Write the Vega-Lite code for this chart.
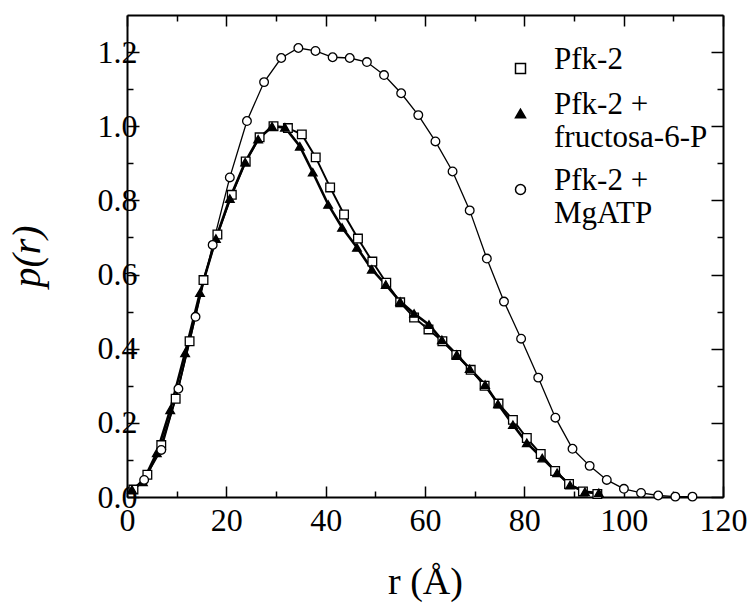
{
  "$schema": "https://vega.github.io/schema/vega-lite/v6.json",
  "width": 596,
  "height": 482,
  "autosize": "none",
  "padding": {"left": 127, "top": 15, "right": 31, "bottom": 112},
  "background": "white",
  "config": {"view": {"stroke": null}, "font": "Liberation Serif", "style": {"guide-label": {"font": "Liberation Serif, Times New Roman, serif"}}, "legend": {"labelFont": "Liberation Serif, Times New Roman, serif", "labelFontSize": 31, "labelColor": "black"}},
  "datasets": {
    "pr": [
      {"s": "Pfk-2", "r": 1.3, "p": 0.02}, {"s": "Pfk-2", "r": 4.1, "p": 0.06}, {"s": "Pfk-2", "r": 6.9, "p": 0.14}, {"s": "Pfk-2", "r": 9.8, "p": 0.265}, {"s": "Pfk-2", "r": 12.6, "p": 0.42}, {"s": "Pfk-2", "r": 15.4, "p": 0.585}, {"s": "Pfk-2", "r": 18.2, "p": 0.708}, {"s": "Pfk-2", "r": 21.1, "p": 0.815}, {"s": "Pfk-2", "r": 23.9, "p": 0.905}, {"s": "Pfk-2", "r": 26.7, "p": 0.97}, {"s": "Pfk-2", "r": 29.5, "p": 1.0}, {"s": "Pfk-2", "r": 32.4, "p": 0.995}, {"s": "Pfk-2", "r": 35.2, "p": 0.978}, {"s": "Pfk-2", "r": 38.0, "p": 0.916}, {"s": "Pfk-2", "r": 40.9, "p": 0.835}, {"s": "Pfk-2", "r": 43.7, "p": 0.762}, {"s": "Pfk-2", "r": 46.5, "p": 0.697}, {"s": "Pfk-2", "r": 49.4, "p": 0.635}, {"s": "Pfk-2", "r": 52.2, "p": 0.578}, {"s": "Pfk-2", "r": 55.0, "p": 0.525}, {"s": "Pfk-2", "r": 57.8, "p": 0.484}, {"s": "Pfk-2", "r": 60.7, "p": 0.452}, {"s": "Pfk-2", "r": 63.5, "p": 0.42}, {"s": "Pfk-2", "r": 66.3, "p": 0.383}, {"s": "Pfk-2", "r": 69.2, "p": 0.343}, {"s": "Pfk-2", "r": 72.0, "p": 0.3}, {"s": "Pfk-2", "r": 74.8, "p": 0.252}, {"s": "Pfk-2", "r": 77.7, "p": 0.208}, {"s": "Pfk-2", "r": 80.5, "p": 0.159}, {"s": "Pfk-2", "r": 83.3, "p": 0.116}, {"s": "Pfk-2", "r": 86.2, "p": 0.07}, {"s": "Pfk-2", "r": 89.0, "p": 0.035}, {"s": "Pfk-2", "r": 91.8, "p": 0.015}, {"s": "Pfk-2", "r": 94.7, "p": 0.008},
      {"s": "Pfk-2 + fructosa-6-P", "r": 1.0, "p": 0.02}, {"s": "Pfk-2 + fructosa-6-P", "r": 3.2, "p": 0.041}, {"s": "Pfk-2 + fructosa-6-P", "r": 6.0, "p": 0.119}, {"s": "Pfk-2 + fructosa-6-P", "r": 8.7, "p": 0.235}, {"s": "Pfk-2 + fructosa-6-P", "r": 11.7, "p": 0.389}, {"s": "Pfk-2 + fructosa-6-P", "r": 14.7, "p": 0.551}, {"s": "Pfk-2 + fructosa-6-P", "r": 17.9, "p": 0.697}, {"s": "Pfk-2 + fructosa-6-P", "r": 20.7, "p": 0.805}, {"s": "Pfk-2 + fructosa-6-P", "r": 23.8, "p": 0.903}, {"s": "Pfk-2 + fructosa-6-P", "r": 26.4, "p": 0.965}, {"s": "Pfk-2 + fructosa-6-P", "r": 29.2, "p": 1.0}, {"s": "Pfk-2 + fructosa-6-P", "r": 31.8, "p": 0.997}, {"s": "Pfk-2 + fructosa-6-P", "r": 34.8, "p": 0.946}, {"s": "Pfk-2 + fructosa-6-P", "r": 37.4, "p": 0.876}, {"s": "Pfk-2 + fructosa-6-P", "r": 40.5, "p": 0.789}, {"s": "Pfk-2 + fructosa-6-P", "r": 43.3, "p": 0.727}, {"s": "Pfk-2 + fructosa-6-P", "r": 46.3, "p": 0.673}, {"s": "Pfk-2 + fructosa-6-P", "r": 49.3, "p": 0.614}, {"s": "Pfk-2 + fructosa-6-P", "r": 52.1, "p": 0.573}, {"s": "Pfk-2 + fructosa-6-P", "r": 55.0, "p": 0.527}, {"s": "Pfk-2 + fructosa-6-P", "r": 57.8, "p": 0.495}, {"s": "Pfk-2 + fructosa-6-P", "r": 60.8, "p": 0.465}, {"s": "Pfk-2 + fructosa-6-P", "r": 63.4, "p": 0.424}, {"s": "Pfk-2 + fructosa-6-P", "r": 66.4, "p": 0.384}, {"s": "Pfk-2 + fructosa-6-P", "r": 69.0, "p": 0.346}, {"s": "Pfk-2 + fructosa-6-P", "r": 72.1, "p": 0.303}, {"s": "Pfk-2 + fructosa-6-P", "r": 74.7, "p": 0.251}, {"s": "Pfk-2 + fructosa-6-P", "r": 77.7, "p": 0.195}, {"s": "Pfk-2 + fructosa-6-P", "r": 80.5, "p": 0.146}, {"s": "Pfk-2 + fructosa-6-P", "r": 83.6, "p": 0.105}, {"s": "Pfk-2 + fructosa-6-P", "r": 86.6, "p": 0.065}, {"s": "Pfk-2 + fructosa-6-P", "r": 89.2, "p": 0.032}, {"s": "Pfk-2 + fructosa-6-P", "r": 92.2, "p": 0.014}, {"s": "Pfk-2 + fructosa-6-P", "r": 95.0, "p": 0.011},
      {"s": "Pfk-2 + MgATP", "r": 3.45, "p": 0.046}, {"s": "Pfk-2 + MgATP", "r": 6.9, "p": 0.127}, {"s": "Pfk-2 + MgATP", "r": 10.35, "p": 0.292}, {"s": "Pfk-2 + MgATP", "r": 13.8, "p": 0.486}, {"s": "Pfk-2 + MgATP", "r": 17.25, "p": 0.68}, {"s": "Pfk-2 + MgATP", "r": 20.7, "p": 0.862}, {"s": "Pfk-2 + MgATP", "r": 24.15, "p": 1.014}, {"s": "Pfk-2 + MgATP", "r": 27.6, "p": 1.119}, {"s": "Pfk-2 + MgATP", "r": 31.05, "p": 1.184}, {"s": "Pfk-2 + MgATP", "r": 34.5, "p": 1.211}, {"s": "Pfk-2 + MgATP", "r": 37.95, "p": 1.203}, {"s": "Pfk-2 + MgATP", "r": 41.4, "p": 1.186}, {"s": "Pfk-2 + MgATP", "r": 44.85, "p": 1.184}, {"s": "Pfk-2 + MgATP", "r": 48.3, "p": 1.173}, {"s": "Pfk-2 + MgATP", "r": 51.75, "p": 1.138}, {"s": "Pfk-2 + MgATP", "r": 55.2, "p": 1.089}, {"s": "Pfk-2 + MgATP", "r": 58.65, "p": 1.03}, {"s": "Pfk-2 + MgATP", "r": 62.1, "p": 0.959}, {"s": "Pfk-2 + MgATP", "r": 65.55, "p": 0.878}, {"s": "Pfk-2 + MgATP", "r": 69.0, "p": 0.773}, {"s": "Pfk-2 + MgATP", "r": 72.45, "p": 0.643}, {"s": "Pfk-2 + MgATP", "r": 75.9, "p": 0.527}, {"s": "Pfk-2 + MgATP", "r": 79.35, "p": 0.427}, {"s": "Pfk-2 + MgATP", "r": 82.8, "p": 0.322}, {"s": "Pfk-2 + MgATP", "r": 86.25, "p": 0.214}, {"s": "Pfk-2 + MgATP", "r": 89.7, "p": 0.13}, {"s": "Pfk-2 + MgATP", "r": 93.15, "p": 0.084}, {"s": "Pfk-2 + MgATP", "r": 96.6, "p": 0.046}, {"s": "Pfk-2 + MgATP", "r": 100.05, "p": 0.022}, {"s": "Pfk-2 + MgATP", "r": 103.5, "p": 0.011}, {"s": "Pfk-2 + MgATP", "r": 106.95, "p": 0.004}, {"s": "Pfk-2 + MgATP", "r": 110.4, "p": 0.001}, {"s": "Pfk-2 + MgATP", "r": 113.85, "p": 0.001}
    ]
  },
  "data": {"name": "pr"},
  "layer": [
    {
      "mark": {"type": "line", "color": "black"},
      "encoding": {
        "x": {"field": "r", "type": "quantitative", "scale": {"domain": [0, 120], "nice": false},
          "axis": {"orient": "bottom", "values": [0, 10, 20, 30, 40, 50, 60, 70, 80, 90, 100, 110, 120],
            "labelExpr": "datum.value % 20 === 0 ? datum.label : ''",
            "tickSize": {"condition": {"test": "datum.value % 20 === 0", "value": -11}, "value": -6},
            "tickColor": "black", "tickWidth": 1.5, "domainColor": "black", "domainWidth": 2, "grid": false,
            "labelFont": "Liberation Serif", "labelFontSize": 32, "labelColor": "black", "labelPadding": 19, "labelFlush": false,
            "title": "r (Å)", "titleFont": "Liberation Serif", "titleFontSize": 38, "titleFontWeight": "normal", "titleColor": "black", "titlePadding": 27}},
        "y": {"field": "p", "type": "quantitative", "scale": {"domain": [0, 1.3], "nice": false},
          "axis": {"orient": "left", "values": [0, 0.1, 0.2, 0.3, 0.4, 0.5, 0.6, 0.7, 0.8, 0.9, 1.0, 1.1, 1.2],
            "labelExpr": "round(datum.value * 10) % 2 === 0 ? format(datum.value, '.1f') : ''",
            "tickSize": {"condition": {"test": "round(datum.value * 10) % 2 === 0", "value": -12}, "value": -6},
            "tickColor": "black", "tickWidth": 1.5, "domainColor": "black", "domainWidth": 2, "grid": false,
            "labelFont": "Liberation Serif", "labelFontSize": 32, "labelColor": "black", "labelPadding": 2, "labelFlush": false,
            "title": "p(r)", "titleFont": "Liberation Serif", "titleFontSize": 40, "titleFontStyle": "italic", "titleFontWeight": "normal", "titleColor": "black", "titlePadding": 50}},
        "detail": {"field": "s", "type": "nominal"},
        "strokeWidth": {"field": "s", "type": "nominal", "scale": {"domain": ["Pfk-2 + fructosa-6-P", "Pfk-2", "Pfk-2 + MgATP"], "range": [2.6, 1.3, 1.3]}, "legend": null}
      }
    },
    {
      "mark": {"type": "point", "filled": true, "stroke": "black", "strokeWidth": 1.3, "opacity": 1, "size": 75},
      "encoding": {
        "x": {"field": "r", "type": "quantitative",
          "axis": {"orient": "top", "values": [0, 10, 20, 30, 40, 50, 60, 70, 80, 90, 100, 110, 120], "labels": false,
            "tickSize": {"condition": {"test": "datum.value % 20 === 0", "value": -11}, "value": -6},
            "tickColor": "black", "tickWidth": 1.5, "domainColor": "black", "domainWidth": 2, "grid": false, "title": null}},
        "y": {"field": "p", "type": "quantitative",
          "axis": {"orient": "right", "values": [0, 0.1, 0.2, 0.3, 0.4, 0.5, 0.6, 0.7, 0.8, 0.9, 1.0, 1.1, 1.2], "labels": false,
            "tickSize": {"condition": {"test": "round(datum.value * 10) % 2 === 0", "value": -12}, "value": -6},
            "tickColor": "black", "tickWidth": 1.5, "domainColor": "black", "domainWidth": 2, "grid": false, "title": null}},
        "fill": {"field": "s", "type": "nominal", "scale": {"domain": ["Pfk-2", "Pfk-2 + fructosa-6-P", "Pfk-2 + MgATP"], "range": ["white", "black", "white"]},
          "legend": {"orient": "none", "legendX": 378, "legendY": 38, "title": null, "padding": 0,
            "symbolSize": 100, "symbolStrokeWidth": 1.5, "symbolStrokeColor": "black",
            "labelFont": "Liberation Serif, Times New Roman, serif", "labelFontSize": 31, "labelColor": "black", "labelLimit": 0, "labelOffset": 18, "labelBaseline": "alphabetic",
            "rowPadding": 11,
            "labelExpr": "datum.value === 'Pfk-2' ? 'Pfk-2' : datum.value === 'Pfk-2 + MgATP' ? ['Pfk-2 +', 'MgATP'] : ['Pfk-2 +', 'fructosa-6-P']"
          }},
        "shape": {"field": "s", "type": "nominal", "scale": {"domain": ["Pfk-2", "Pfk-2 + fructosa-6-P", "Pfk-2 + MgATP"], "range": ["square", "triangle-up", "circle"]}}
      }
    }
  ],
  "resolve": {"axis": {"x": "independent", "y": "independent"}}
}
